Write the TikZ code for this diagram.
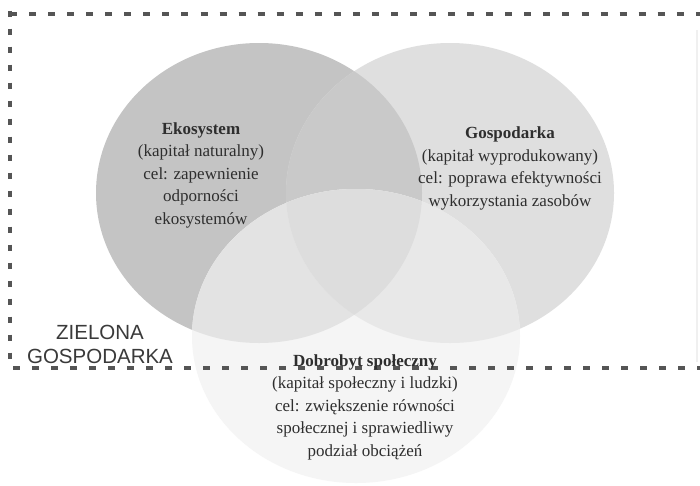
\documentclass[tikz,border=0pt]{standalone}
\usepackage{fontspec}
\setmainfont{Liberation Serif}
\newfontfamily\labelsans{Liberation Sans}

% region shades of the three-set diagram
\definecolor{ekoC}{HTML}{C4C4C4}
\definecolor{gospC}{HTML}{DFDFDF}
\definecolor{dobC}{HTML}{F5F5F5}
\definecolor{egC}{HTML}{C9C9C9}
\definecolor{edC}{HTML}{E3E3E3}
\definecolor{gdC}{HTML}{E8E8E8}
\definecolor{egdC}{HTML}{DDDDDD}
\definecolor{frameC}{HTML}{555555}
\definecolor{textC}{HTML}{2E2E2E}
\definecolor{zoneC}{HTML}{3A3A3A}

\tikzset{
  frameline/.style={draw=frameC, line width=4pt},
  setlabel/.style={align=center, text=textC, inner sep=0pt,
    font=\fontsize{17}{22.5}\selectfont},
  zonelabel/.style={align=center, text=zoneC, inner sep=0pt,
    font=\labelsans\fontsize{20.5}{24}\selectfont},
}

\def\eko{(259,193) ellipse [x radius=163pt, y radius=150pt]}
\def\gosp{(450,193) ellipse [x radius=164pt, y radius=150pt]}
\def\dob{(356,336) ellipse [x radius=164pt, y radius=147pt]}

\begin{document}
\begin{tikzpicture}[x=1pt,y=-1pt]
\useasboundingbox[fill=white] (0,0) rectangle (700,485);

% the three sets and their overlaps
\fill[ekoC] \eko;
\fill[gospC] \gosp;
\begin{scope}
  \clip \eko;
  \fill[egC] \gosp;
\end{scope}
\fill[dobC] \dob;
\begin{scope}
  \clip \dob;
  \fill[edC] \eko;
  \fill[gdC] \gosp;
  \clip \eko;
  \fill[egdC] \gosp;
\end{scope}

% dashed frame of the green economy zone
\coordinate (tl) at (10,14);
\coordinate (tr) at (700,14);
\coordinate (bl) at (13,368);
\coordinate (br) at (700,368);
\coordinate (lt) at (10,10.5);
\coordinate (lb) at (10,368);
\coordinate (rt) at (697,30);
\coordinate (rb) at (697,362);
\draw[frameline, dash pattern=on 7pt off 12.05pt] (tl) -- (tr);
\draw[frameline, dash pattern=on 6.5pt off 11.5pt] (lt) -- (lb);
\draw[frameline, dash pattern=on 7pt off 12pt] (bl) -- (br);
\draw[black!6, line width=1.5pt] (rt) -- (rb);

% labels
\node[setlabel] (ekotext) at (201,175) {\textbf{Ekosystem}\\(kapitał naturalny)\\cel: zapewnienie\\odporności\\ekosystemów};
\node[setlabel] (gosptext) at (510,168.5) {\textbf{Gospodarka}\\(kapitał wyprodukowany)\\cel: poprawa efektywności\\wykorzystania zasobów};
\node[setlabel] (dobtext) at (365,407) {\textbf{Dobrobyt społeczny}\\(kapitał społeczny i ludzki)\\cel: zwiększenie równości\\społecznej i sprawiedliwy\\podział obciążeń};
\node[zonelabel] (zone) at (100,344) {ZIELONA\\GOSPODARKA};
\end{tikzpicture}
\end{document}
